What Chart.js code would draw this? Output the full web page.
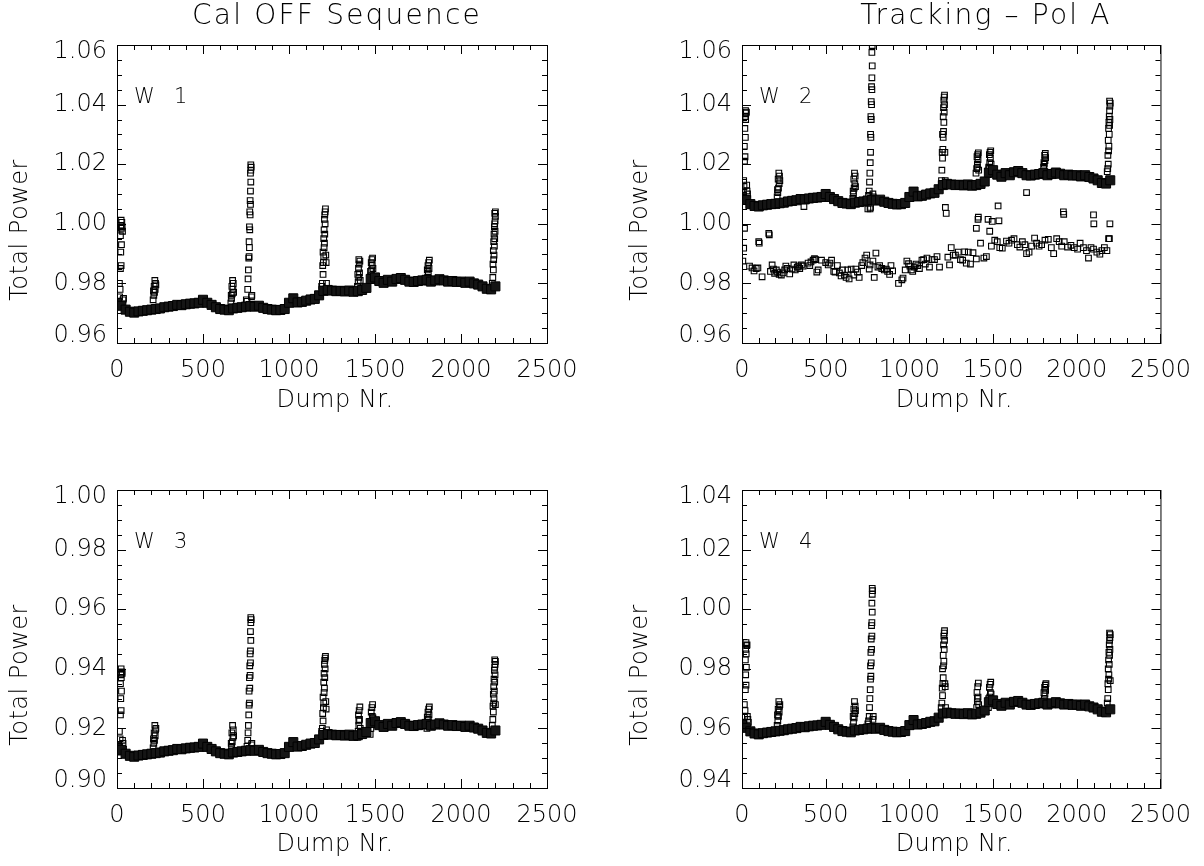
<!DOCTYPE html>
<html>
<head>
<meta charset="utf-8">
<script src="https://cdn.jsdelivr.net/npm/chart.js@4/dist/chart.umd.min.js"></script>
<style>
  body { margin: 0; background: #fff; }
  #page { position: relative; width: 1204px; height: 866px; overflow: hidden; }
  .panel { position: absolute; width: 602px; height: 433px; }
</style>
</head>
<body>
<div id="page">
  <div class="panel" style="left:0;top:0"><canvas id="w1" width="602" height="433"></canvas></div>
  <div class="panel" style="left:602px;top:0"><canvas id="w2" width="602" height="433"></canvas></div>
  <div class="panel" style="left:0;top:433px"><canvas id="w3" width="602" height="433"></canvas></div>
  <div class="panel" style="left:602px;top:433px"><canvas id="w4" width="602" height="433"></canvas></div>
</div>
<script>
// sampled dump numbers for the dense baseline band
const dumps = [0,25,50,75,100,125,150,175,200,225,250,275,300,325,350,375,400,425,450,475,
  500,525,550,575,600,625,650,675,700,725,750,775,800,825,850,875,900,925,950,975,
  1000,1025,1050,1075,1100,1125,1150,1175,1200,1225,1250,1275,1300,1325,1350,1375,1400,1425,1450,1475,
  1500,1525,1550,1575,1600,1625,1650,1675,1700,1725,1750,1775,1800,1825,1850,1875,1900,1925,1950,1975,
  2000,2025,2050,2075,2100,2125,2150,2175,2200];

const xTicks = [0, 500, 1000, 1500, 2000, 2500];

// W1 (Cal OFF)
const w1Base = [0.9735,0.9725,0.9712,0.9705,0.9702,0.9706,0.9708,0.9710,0.9712,0.9714,
  0.9716,0.9720,0.9722,0.9724,0.9728,0.9727,0.9730,0.9732,0.9733,0.9735,
  0.9745,0.9735,0.9728,0.9720,0.9714,0.9712,0.9710,0.9716,0.9718,0.9720,
  0.9722,0.9724,0.9722,0.9725,0.9718,0.9714,0.9712,0.9710,0.9711,0.9714,
  0.9735,0.9750,0.9736,0.9738,0.9742,0.9746,0.9748,0.9760,0.9775,0.9778,
  0.9776,0.9774,0.9775,0.9773,0.9776,0.9772,0.9774,0.9778,0.9785,0.9815,
  0.9820,0.9808,0.9802,0.9812,0.9806,0.9815,0.9818,0.9812,0.9806,0.9805,
  0.9808,0.9810,0.9812,0.9806,0.9810,0.9814,0.9810,0.9806,0.9808,0.9805,
  0.9806,0.9802,0.9806,0.9800,0.9796,0.9790,0.9782,0.9780,0.9790];
const w1Spikes = [
  [12,0.9735],[15,0.9755],[18,0.9780],[14,0.9800],[20,0.9850],[24,0.9860],[22,0.9905],[26,0.9930],[20,0.9960],[25,0.9985],[22,0.9995],[28,1.0005],[24,1.0012],[30,0.9990],[32,0.9975],[35,0.9745],[38,0.9750],
  [210,0.9745],[214,0.9760],[218,0.9770],[222,0.9780],[216,0.9790],[224,0.9800],[220,0.9810],[226,0.9795],[212,0.9775],
  [662,0.9735],[666,0.9750],[670,0.9765],[674,0.9780],[668,0.9790],[676,0.9800],[672,0.9810],[678,0.9770],[664,0.9760],
  [752,0.9745],[756,0.9740],[760,0.9780],[762,0.9815],[764,0.9845],[766,0.9885],[768,0.9890],[770,0.9920],[768,0.9940],[772,0.9980],[770,0.9990],[774,1.0030],[772,1.0040],[776,1.0065],[774,1.0078],[776,1.0110],[778,1.0140],[776,1.0170],[778,1.0180],[780,1.0190],[778,1.0198],[782,0.9755],[784,0.9760],
  [1190,0.9790],[1194,0.9800],[1198,0.9830],[1196,0.9860],[1200,0.9870],[1202,0.9890],[1198,0.9905],[1204,0.9920],[1206,0.9935],[1202,0.9950],[1208,0.9965],[1204,0.9980],[1210,1.0000],[1206,1.0015],[1208,1.0030],[1210,1.0040],[1212,1.0050],[1214,0.9895],[1216,0.9870],[1218,0.9800],
  [1398,0.9790],[1402,0.9805],[1406,0.9820],[1410,0.9835],[1404,0.9850],[1408,0.9865],[1412,0.9875],[1406,0.9880],[1414,0.9810],[1400,0.9830],
  [1472,0.9810],[1476,0.9825],[1480,0.9845],[1484,0.9860],[1478,0.9870],[1482,0.9880],[1486,0.9885],[1488,0.9850],[1474,0.9840],
  [1802,0.9805],[1806,0.9820],[1810,0.9835],[1814,0.9850],[1808,0.9860],[1812,0.9870],[1816,0.9878],[1804,0.9845],
  [2182,0.9800],[2185,0.9820],[2188,0.9845],[2186,0.9865],[2190,0.9880],[2192,0.9895],[2188,0.9910],[2194,0.9925],[2190,0.9940],[2196,0.9950],[2192,0.9965],[2198,0.9975],[2194,0.9990],[2196,1.0000],[2198,1.0010],[2200,1.0025],[2196,1.0035],[2200,1.0040]
];

// W2 (Tracking - Pol A)
const w2Base = [1.0090,1.0080,1.0066,1.0060,1.0058,1.0062,1.0064,1.0066,1.0067,1.0069,
  1.0071,1.0075,1.0077,1.0079,1.0083,1.0082,1.0085,1.0087,1.0088,1.0090,
  1.0100,1.0090,1.0083,1.0076,1.0070,1.0068,1.0066,1.0071,1.0073,1.0075,
  1.0078,1.0080,1.0078,1.0081,1.0074,1.0070,1.0067,1.0065,1.0066,1.0070,
  1.0090,1.0108,1.0092,1.0094,1.0098,1.0102,1.0104,1.0116,1.0130,1.0134,
  1.0132,1.0130,1.0131,1.0129,1.0132,1.0128,1.0130,1.0134,1.0142,1.0172,
  1.0180,1.0165,1.0158,1.0170,1.0163,1.0173,1.0177,1.0170,1.0163,1.0162,
  1.0165,1.0167,1.0170,1.0163,1.0167,1.0172,1.0168,1.0163,1.0165,1.0162,
  1.0163,1.0159,1.0163,1.0157,1.0152,1.0146,1.0137,1.0135,1.0146];
const w2Spikes = [
  [5,1.0095],[8,1.0110],[12,1.0125],[10,1.0145],[15,1.0210],[18,1.0225],[14,1.0260],[20,1.0290],[17,1.0320],[22,1.0350],[19,1.0360],[24,1.0372],[21,1.0380],[26,1.0375],[28,1.0130],[30,1.0110],[33,1.0100],
  [210,1.0090],[214,1.0105],[218,1.0120],[222,1.0135],[216,1.0150],[224,1.0160],[220,1.0170],[226,1.0145],[212,1.0115],
  [662,1.0085],[666,1.0100],[670,1.0120],[674,1.0135],[668,1.0150],[676,1.0160],[672,1.0170],[678,1.0125],[664,1.0110],
  [752,1.0050],[756,1.0095],[760,1.0110],[762,1.0140],[764,1.0170],[766,1.0205],[768,1.0240],[770,1.0290],[768,1.0300],[772,1.0350],[770,1.0360],[774,1.0400],[772,1.0410],[776,1.0450],[774,1.0460],[776,1.0490],[778,1.0530],[776,1.0575],[778,1.0598],[780,1.0608],[778,1.0615],[782,1.0100],[784,1.0090],
  [1192,1.0145],[1194,1.0180],[1198,1.0220],[1196,1.0240],[1200,1.0250],[1202,1.0290],[1198,1.0300],[1204,1.0310],[1206,1.0340],[1202,1.0360],[1208,1.0375],[1204,1.0390],[1210,1.0400],[1206,1.0415],[1208,1.0425],[1210,1.0432],[1212,1.0240],[1214,1.0145],[1216,1.0140],
  [1398,1.0170],[1402,1.0185],[1406,1.0200],[1410,1.0215],[1404,1.0225],[1408,1.0232],[1412,1.0238],[1406,1.0190],[1414,1.0180],
  [1472,1.0165],[1476,1.0185],[1480,1.0205],[1484,1.0220],[1478,1.0232],[1482,1.0240],[1486,1.0245],[1488,1.0200],[1474,1.0190],
  [1802,1.0190],[1806,1.0200],[1810,1.0212],[1814,1.0222],[1808,1.0230],[1812,1.0236],[1804,1.0205],
  [2182,1.0175],[2185,1.0185],[2188,1.0200],[2186,1.0230],[2190,1.0245],[2192,1.0260],[2188,1.0280],[2194,1.0300],[2190,1.0320],[2196,1.0330],[2192,1.0340],[2198,1.0350],[2194,1.0360],[2196,1.0380],[2198,1.0395],[2200,1.0405],[2196,1.0412]
];
// second, lower population of points in W2
const w2Low = [
  [5,0.9875],[10,0.9918],[15,0.9985],[45,0.9858],[60,0.9852],[72,0.9842],[85,0.9850],[95,0.9852],[100,0.9940],[103,0.9935],
  [120,0.9822],[160,0.9968],[163,0.9963],[170,0.9840],[180,0.9862],[188,0.9848],[195,0.9834],[205,0.9845],[212,0.9838],[222,0.9830],
  [235,0.9828],[245,0.9835],[255,0.9845],[262,0.9858],[270,0.9850],[285,0.9832],[300,0.9848],[310,0.9862],[318,0.9845],[330,0.9855],
  [338,0.9858],[345,0.9850],[355,0.9862],[365,0.9858],[370,1.0058],[395,0.9868],[405,0.9860],[412,0.9872],[425,0.9878],[433,0.9883],
  [440,0.9880],[447,0.9838],[455,0.9845],[475,0.9878],[500,0.9870],[515,0.9862],[525,0.9868],[535,0.9878],[548,0.9840],[556,0.9838],
  [570,0.9860],[582,0.9835],[592,0.9825],[600,0.9845],[612,0.9828],[622,0.9820],[632,0.9845],[640,0.9815],[652,0.9848],[668,0.9828],
  [680,0.9848],[690,0.9838],[700,0.9820],[715,0.9860],[722,0.9870],[735,0.9885],[745,0.9895],[760,0.9848],[765,0.9862],[782,0.9875],
  [790,0.9820],[800,0.9902],[812,0.9855],[822,0.9860],[835,0.9850],[850,0.9845],[862,0.9848],[870,0.9840],[882,0.9830],[890,0.9860],
  [900,0.9842],[935,0.9800],[955,0.9812],[962,0.9818],[975,0.9845],[985,0.9875],[995,0.9866],[1003,0.9858],[1012,0.9845],[1020,0.9840],
  [1030,0.9855],[1040,0.9865],[1050,0.9860],[1060,0.9850],[1075,0.9878],[1085,0.9880],[1095,0.9865],[1105,0.9885],[1120,0.9855],[1135,0.9880],
  [1150,0.9880],[1165,0.9890],[1180,0.9855],[1230,0.9888],[1240,0.9862],[1250,0.9920],[1262,0.9895],[1275,0.9895],[1292,0.9905],[1305,0.9880],
  [1318,0.9878],[1330,0.9906],[1340,0.9868],[1352,0.9905],[1365,0.9865],[1380,0.9903],[1400,0.9882],[1425,0.9935],[1445,0.9885],[1460,0.9890],
  [1490,0.9925],[1510,0.9945],[1525,0.9940],[1540,0.9920],[1555,0.9918],[1580,0.9942],[1595,0.9935],[1610,0.9945],[1625,0.9950],[1645,0.9930],
  [1660,0.9922],[1675,0.9940],[1690,0.9930],[1700,0.9900],[1715,0.9905],[1730,0.9925],[1748,0.9952],[1760,0.9935],[1775,0.9925],[1790,0.9930],
  [1810,0.9945],[1830,0.9948],[1848,0.9920],[1862,0.9900],[1880,0.9950],[1895,0.9940],[1910,0.9925],[1925,0.9940],[1945,0.9922],[1965,0.9928],
  [1985,0.9920],[2005,0.9915],[2020,0.9935],[2040,0.9920],[2058,0.9910],[2070,0.9885],[2085,0.9920],[2100,0.9915],[2120,0.9905],[2138,0.9898],
  [2150,0.9910],[2165,0.9920],[2180,0.9910],[2195,0.9950],
  [765,1.0050],[768,1.0055],[1215,1.0055],[1220,1.0035],[1400,0.9985],[1410,1.0015],[1412,1.0022],[1470,1.0015],[1480,0.9975],[1495,1.0008],
  [1530,1.0060],[1535,1.0010],[1700,1.0105],[1920,1.0040],[1922,1.0032],[2100,1.0030],[2102,1.0000],[2198,1.0000],[2190,0.9950]
];

// W3
const w3Base = [0.9140,0.9128,0.9115,0.9108,0.9105,0.9109,0.9111,0.9113,0.9115,0.9117,
  0.9119,0.9123,0.9125,0.9127,0.9131,0.9130,0.9133,0.9135,0.9136,0.9138,
  0.9149,0.9138,0.9131,0.9123,0.9117,0.9115,0.9113,0.9119,0.9121,0.9123,
  0.9125,0.9127,0.9125,0.9128,0.9121,0.9117,0.9115,0.9113,0.9114,0.9117,
  0.9138,0.9154,0.9139,0.9141,0.9145,0.9149,0.9151,0.9163,0.9178,0.9181,
  0.9179,0.9177,0.9178,0.9176,0.9179,0.9175,0.9177,0.9181,0.9188,0.9218,
  0.9224,0.9211,0.9205,0.9215,0.9209,0.9218,0.9221,0.9215,0.9209,0.9208,
  0.9211,0.9213,0.9215,0.9209,0.9213,0.9217,0.9213,0.9209,0.9211,0.9208,
  0.9209,0.9205,0.9209,0.9203,0.9199,0.9193,0.9185,0.9183,0.9193];
const w3Spikes = [
  [12,0.9120],[15,0.9140],[18,0.9165],[14,0.9190],[20,0.9245],[24,0.9260],[22,0.9300],[26,0.9325],[20,0.9350],[25,0.9370],[22,0.9380],[28,0.9390],[24,0.9400],[30,0.9385],[32,0.9160],[35,0.9150],[38,0.9130],
  [210,0.9135],[214,0.9150],[218,0.9160],[222,0.9175],[216,0.9185],[224,0.9195],[220,0.9210],[226,0.9200],[212,0.9165],
  [662,0.9120],[666,0.9140],[670,0.9155],[674,0.9170],[668,0.9185],[676,0.9195],[672,0.9210],[678,0.9175],[664,0.9150],
  [752,0.9130],[756,0.9140],[760,0.9160],[762,0.9185],[764,0.9210],[766,0.9245],[768,0.9278],[770,0.9285],[768,0.9325],[772,0.9335],[770,0.9370],[774,0.9378],[772,0.9410],[776,0.9420],[774,0.9450],[776,0.9460],[778,0.9495],[776,0.9525],[778,0.9555],[780,0.9565],[778,0.9572],[782,0.9145],[784,0.9150],
  [1190,0.9190],[1194,0.9200],[1198,0.9225],[1196,0.9250],[1200,0.9270],[1202,0.9285],[1198,0.9305],[1204,0.9320],[1206,0.9335],[1202,0.9355],[1208,0.9370],[1204,0.9385],[1210,0.9400],[1206,0.9415],[1208,0.9428],[1210,0.9436],[1212,0.9442],[1214,0.9290],[1216,0.9265],[1218,0.9195],
  [1398,0.9170],[1402,0.9190],[1406,0.9210],[1410,0.9230],[1404,0.9245],[1408,0.9260],[1412,0.9272],[1406,0.9225],[1414,0.9200],
  [1472,0.9180],[1476,0.9200],[1480,0.9220],[1484,0.9240],[1478,0.9255],[1482,0.9270],[1486,0.9280],[1488,0.9235],[1474,0.9215],
  [1802,0.9200],[1806,0.9215],[1810,0.9230],[1814,0.9245],[1808,0.9255],[1812,0.9265],[1816,0.9272],[1804,0.9238],
  [2182,0.9210],[2185,0.9230],[2188,0.9255],[2186,0.9275],[2190,0.9285],[2192,0.9300],[2188,0.9315],[2194,0.9325],[2190,0.9340],[2196,0.9355],[2192,0.9365],[2198,0.9380],[2194,0.9395],[2196,0.9405],[2198,0.9415],[2200,0.9425],[2196,0.9430],[2200,0.9280]
];

// W4
const w4Base = [0.9612,0.9602,0.9590,0.9583,0.9580,0.9584,0.9586,0.9588,0.9590,0.9592,
  0.9594,0.9597,0.9599,0.9601,0.9605,0.9604,0.9607,0.9609,0.9610,0.9612,
  0.9622,0.9612,0.9605,0.9597,0.9591,0.9589,0.9587,0.9593,0.9595,0.9597,
  0.9599,0.9601,0.9599,0.9602,0.9595,0.9591,0.9589,0.9587,0.9588,0.9591,
  0.9611,0.9628,0.9613,0.9615,0.9618,0.9622,0.9624,0.9636,0.9650,0.9653,
  0.9651,0.9649,0.9650,0.9648,0.9651,0.9647,0.9649,0.9653,0.9660,0.9688,
  0.9694,0.9682,0.9676,0.9686,0.9680,0.9689,0.9692,0.9686,0.9680,0.9679,
  0.9682,0.9684,0.9686,0.9680,0.9684,0.9688,0.9684,0.9680,0.9682,0.9679,
  0.9680,0.9676,0.9680,0.9674,0.9670,0.9664,0.9656,0.9654,0.9664];
const w4Spikes = [
  [12,0.9620],[15,0.9640],[18,0.9660],[14,0.9680],[20,0.9730],[24,0.9745],[22,0.9780],[26,0.9805],[20,0.9830],[25,0.9850],[22,0.9865],[28,0.9878],[24,0.9888],[30,0.9880],[32,0.9640],[35,0.9630],[38,0.9620],
  [210,0.9610],[214,0.9625],[218,0.9640],[222,0.9655],[216,0.9665],[224,0.9675],[220,0.9690],[226,0.9680],[212,0.9645],
  [662,0.9605],[666,0.9620],[670,0.9635],[674,0.9650],[668,0.9665],[676,0.9675],[672,0.9690],[678,0.9660],[664,0.9640],
  [752,0.9615],[756,0.9625],[760,0.9640],[762,0.9670],[764,0.9700],[766,0.9730],[768,0.9765],[770,0.9775],[768,0.9810],[772,0.9820],[770,0.9855],[774,0.9865],[772,0.9900],[776,0.9910],[774,0.9945],[776,0.9955],[778,0.9990],[776,1.0020],[778,1.0050],[780,1.0062],[778,1.0070],[782,0.9630],[784,0.9640],
  [1190,0.9670],[1194,0.9685],[1198,0.9710],[1196,0.9735],[1200,0.9750],[1202,0.9770],[1198,0.9800],[1204,0.9810],[1206,0.9825],[1202,0.9845],[1208,0.9865],[1204,0.9880],[1210,0.9895],[1206,0.9910],[1208,0.9920],[1210,0.9928],[1212,0.9750],[1214,0.9740],[1216,0.9670],
  [1398,0.9650],[1402,0.9670],[1406,0.9690],[1410,0.9705],[1404,0.9720],[1408,0.9740],[1412,0.9752],[1406,0.9700],[1414,0.9680],
  [1472,0.9670],[1476,0.9690],[1480,0.9705],[1484,0.9720],[1478,0.9738],[1482,0.9748],[1486,0.9755],[1488,0.9715],[1474,0.9700],
  [1802,0.9685],[1806,0.9700],[1810,0.9715],[1814,0.9728],[1808,0.9738],[1812,0.9745],[1816,0.9750],[1804,0.9720],
  [2182,0.9685],[2185,0.9700],[2188,0.9730],[2186,0.9750],[2190,0.9765],[2192,0.9780],[2188,0.9800],[2194,0.9815],[2190,0.9830],[2196,0.9845],[2192,0.9855],[2198,0.9865],[2194,0.9880],[2196,0.9895],[2198,0.9905],[2200,0.9915],[2196,0.9920],[2200,0.9760]
];

const FONT = "'DejaVu Sans', 'Liberation Sans', sans-serif";
const INK = '#000';

// IDL-style frame: box, inward major/minor ticks on all sides, y labels, axis titles, tag, title
const idlFrame = {
  id: 'idlFrame',
  beforeDraw(chart) {
    chart.ctx.letterSpacing = '0px';
  },
  afterDraw(chart, args, opts) {
    const { ctx, chartArea: a, scales: { x, y } } = chart;
    ctx.save();
    ctx.strokeStyle = INK;
    ctx.lineWidth = 1;
    ctx.strokeRect(a.left + 0.5, a.top + 0.5, a.right - a.left, a.bottom - a.top);
    ctx.beginPath();
    for (let v = 0; v <= 2500; v += 100) {
      const px = Math.round(x.getPixelForValue(v)) + 0.5;
      const len = v % 500 === 0 ? 9 : 5;
      ctx.moveTo(px, a.bottom); ctx.lineTo(px, a.bottom - len);
      ctx.moveTo(px, a.top); ctx.lineTo(px, a.top + len);
    }
    const n = Math.round((y.max - y.min) / 0.005);
    for (let i = 0; i <= n; i++) {
      const py = Math.round(y.getPixelForValue(y.min + i * 0.005)) + 0.5;
      const len = i % 4 === 0 ? 9 : 5;
      ctx.moveTo(a.left, py); ctx.lineTo(a.left + len, py);
      ctx.moveTo(a.right, py); ctx.lineTo(a.right - len, py);
    }
    ctx.stroke();

    ctx.fillStyle = INK;
    ctx.font = '200 24px ' + FONT;
    ctx.letterSpacing = '0px';
    ctx.textAlign = 'right';
    ctx.textBaseline = 'middle';
    for (let i = 0; i <= n; i += 4) {
      const v = y.min + i * 0.005;
      let py = y.getPixelForValue(v);
      if (i === 0) py -= 7;
      else if (i === n) py += 7;
      ctx.fillText(v.toFixed(2), a.left - 10, py);
    }

    // axis titles
    ctx.font = '200 24px ' + FONT;
    ctx.letterSpacing = '0.5px';
    ctx.textAlign = 'center';
    ctx.fillText('Dump Nr.', (a.left + a.right) / 2 + 3, opts.xTitleY);
    ctx.save();
    ctx.translate(opts.yTitleX, (a.top + a.bottom) / 2 + 36);
    ctx.rotate(-Math.PI / 2);
    ctx.fillText('Total Power', 0, 0);
    ctx.restore();

    ctx.textAlign = 'left';
    ctx.font = '200 21px ' + FONT;
    ctx.letterSpacing = '2px';
    ctx.fillText(opts.tag, a.left + 17, a.top + 53);

    if (opts.title) {
      ctx.textAlign = 'center';
      ctx.font = '200 28px ' + FONT;
      ctx.letterSpacing = '2.2px';
      ctx.fillText(opts.title, opts.titleX, 17);
    }
    ctx.restore();
  }
};

function makePanel(id, p) {
  const datasets = [
    {
      data: p.base.map((v, i) => ({ x: dumps[i], y: v })),
      pointStyle: 'rect', pointRadius: 6.4,
      backgroundColor: '#151515', borderColor: '#000', borderWidth: 1
    },
    {
      data: p.spikes.map(([x, y]) => ({ x, y })),
      pointStyle: 'rect', pointRadius: 4,
      backgroundColor: 'rgba(0,0,0,0)', borderColor: '#000', borderWidth: 1.1
    }
  ];
  if (p.extra) {
    datasets.push({
      data: p.extra.map(([x, y]) => ({ x, y })),
      pointStyle: 'rect', pointRadius: 4,
      backgroundColor: 'rgba(0,0,0,0)', borderColor: '#000', borderWidth: 1.1
    });
  }

  new Chart(document.getElementById(id), {
    type: 'scatter',
    data: { datasets },
    options: {
      responsive: false,
      devicePixelRatio: 1,
      animation: false,
      events: [],
      layout: { padding: { left: 0, top: p.top, right: 602 - p.right, bottom: 0 } },
      plugins: {
        legend: { display: false },
        tooltip: { enabled: false },
        idlFrame: { tag: p.tag, title: p.title, titleX: p.titleX, xTitleY: p.xTitleY, yTitleX: p.yTitleX }
      },
      scales: {
        x: {
          type: 'linear',
          min: 0, max: 2500,
          grid: { display: false, drawTicks: false },
          border: { display: false },
          afterBuildTicks: s => { s.ticks = xTicks.map(v => ({ value: v })); },
          afterFit: s => { s.height = 433 - p.bottom; },
          ticks: {
            padding: 13,
            color: INK,
            font: { family: FONT, size: 24, weight: '200' },
            callback: v => String(v)
          }
        },
        y: {
          type: 'linear',
          min: p.yMin, max: p.yMax,
          grid: { display: false, drawTicks: false },
          border: { display: false },
          ticks: { display: false },
          afterFit: s => { s.width = p.left; }
        }
      }
    },
    plugins: [idlFrame]
  });
}

makePanel('w1', { base: w1Base, spikes: w1Spikes, yMin: 0.96, yMax: 1.06, tag: 'W  1',
  title: 'Cal OFF Sequence', titleX: 337,
  left: 117, right: 547, top: 45, bottom: 343, yTitleX: 21, xTitleY: 401 });
makePanel('w2', { base: w2Base, spikes: w2Spikes, extra: w2Low, yMin: 0.96, yMax: 1.06, tag: 'W  2',
  title: 'Tracking – Pol A', titleX: 384,
  left: 140, right: 570, top: 45, bottom: 343, yTitleX: 39, xTitleY: 401 });
makePanel('w3', { base: w3Base, spikes: w3Spikes, yMin: 0.90, yMax: 1.00, tag: 'W  3',
  left: 117, right: 547, top: 57, bottom: 355, yTitleX: 21, xTitleY: 412 });
makePanel('w4', { base: w4Base, spikes: w4Spikes, yMin: 0.94, yMax: 1.04, tag: 'W  4',
  left: 140, right: 570, top: 57, bottom: 355, yTitleX: 39, xTitleY: 412 });
</script>
</body>
</html>
